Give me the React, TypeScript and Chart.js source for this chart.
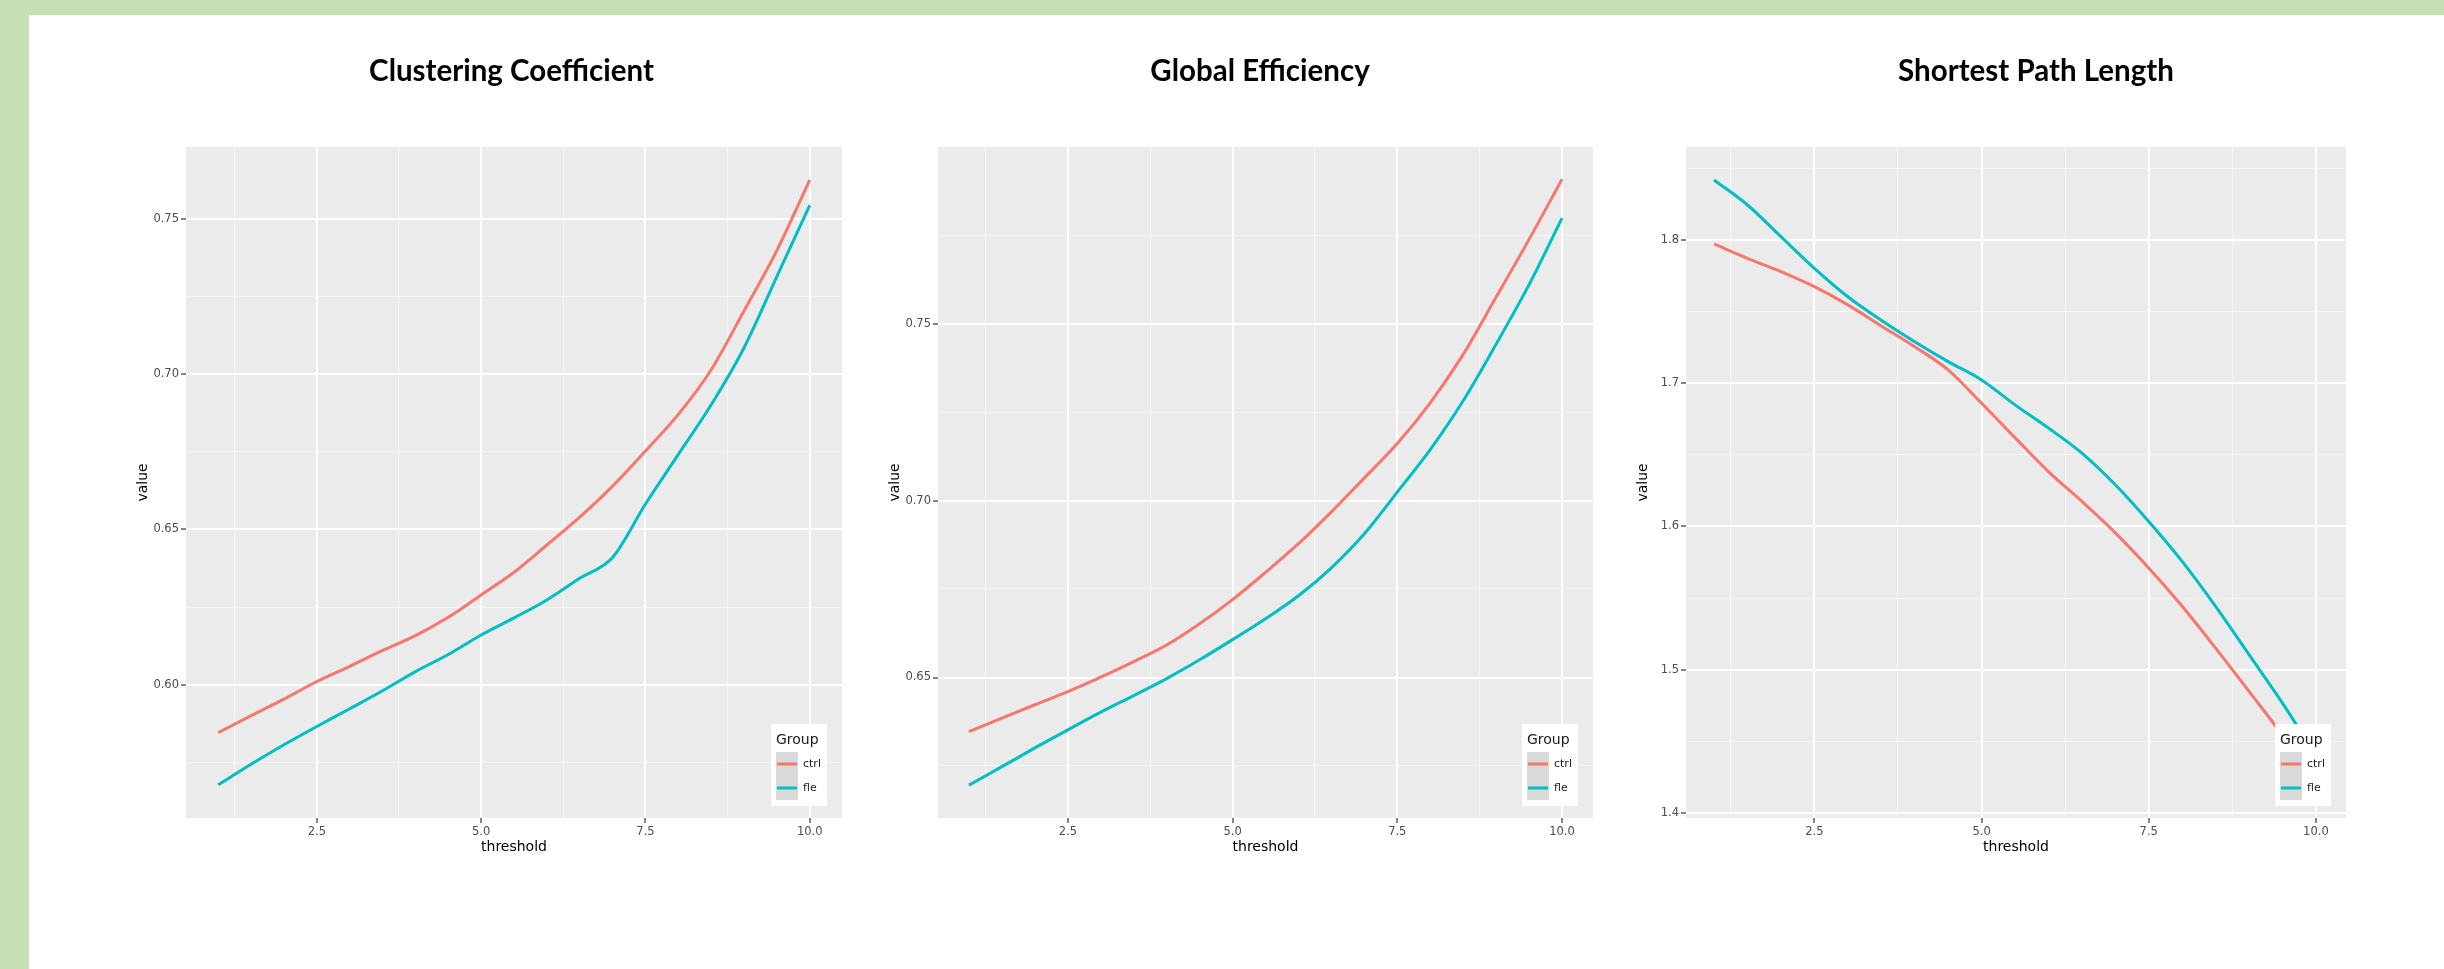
import React, { useEffect, useRef } from 'react';
import { Chart, registerables } from 'chart.js';

Chart.register(...registerables);
Chart.defaults.font.family = '"DejaVu Sans", sans-serif';

// ---------------- data ----------------
const thresholds = [1, 1.5, 2, 2.5, 3, 3.5, 4, 4.5, 5, 5.5, 6, 6.5, 7, 7.5, 8, 8.5, 9, 9.5, 10];
const groupLabels = ['ctrl', 'fle'];
const groupColors = ['#F8766D', '#00BFC4'];
const legendTitle = 'Group';
const xAxisTitle = 'threshold';
const yAxisTitle = 'value';
const panelTitles = ['Clustering Coefficient', 'Global Efficiency', 'Shortest Path Length'];

const clusteringCtrl = [0.5845, 0.5900, 0.5953, 0.6010, 0.6059, 0.6110, 0.6158, 0.6217, 0.6289, 0.6362, 0.6450, 0.6540, 0.6640, 0.6753, 0.6871, 0.7015, 0.7205, 0.7400, 0.7627];
const clusteringFle = [0.5677, 0.5743, 0.5806, 0.5865, 0.5922, 0.5980, 0.6042, 0.6097, 0.6160, 0.6215, 0.6273, 0.6343, 0.6410, 0.6582, 0.6742, 0.6902, 0.7086, 0.7316, 0.7546];

const efficiencyCtrl = [0.6347, 0.6385, 0.6423, 0.6460, 0.6501, 0.6545, 0.6592, 0.6652, 0.6720, 0.6797, 0.6878, 0.6968, 0.7064, 0.7161, 0.7276, 0.7413, 0.7575, 0.7738, 0.7908];
const efficiencyFle = [0.6196, 0.6248, 0.6301, 0.6352, 0.6402, 0.6449, 0.6497, 0.6550, 0.6607, 0.6666, 0.6731, 0.6810, 0.6906, 0.7024, 0.7144, 0.7282, 0.7442, 0.7610, 0.7798];

const pathCtrl = [1.7972, 1.7872, 1.7779, 1.7674, 1.7547, 1.7400, 1.7255, 1.7093, 1.6860, 1.6620, 1.6383, 1.6175, 1.5955, 1.5710, 1.5443, 1.5151, 1.4849, 1.4540, 1.4180];
const pathFle = [1.8419, 1.8244, 1.8023, 1.7802, 1.7604, 1.7440, 1.7290, 1.7151, 1.7023, 1.6849, 1.6687, 1.6512, 1.6291, 1.6035, 1.5756, 1.5442, 1.5105, 1.4767, 1.4400];

const xTickValues = [2.5, 5, 7.5, 10];
const xTickLabels = ['2.5', '5.0', '7.5', '10.0'];
const clusteringYTicks = [0.6, 0.65, 0.7, 0.75];
const clusteringYLabels = ['0.60', '0.65', '0.70', '0.75'];
const efficiencyYTicks = [0.65, 0.7, 0.75];
const efficiencyYLabels = ['0.65', '0.70', '0.75'];
const pathYTicks = [1.4, 1.5, 1.6, 1.7, 1.8];
const pathYLabels = ['1.4', '1.5', '1.6', '1.7', '1.8'];

// ---------------- layout ----------------
const PAGE_W = 2444;
const PAGE_H = 969;
const CANVAS_TOP = 15;
const PLOT_TOP = 147;
const PLOT_BOTTOM = 818;
const Y_AXIS_W = 51;
const X_AXIS_H = 38;
const PAD_RIGHT = 14;
const TITLE_BASELINE = 81;

const panels = [
  {
    title: panelTitles[0], ctrl: clusteringCtrl, fle: clusteringFle,
    yTicks: clusteringYTicks, yLabels: clusteringYLabels,
    left: 186, right: 842, xMin: 0.51, xMax: 10.49, yMin: 0.557, yMax: 0.7733, titleOffset: -2.5,
  },
  {
    title: panelTitles[1], ctrl: efficiencyCtrl, fle: efficiencyFle,
    yTicks: efficiencyYTicks, yLabels: efficiencyYLabels,
    left: 938, right: 1593, xMin: 0.53, xMax: 10.47, yMin: 0.6103, yMax: 0.7999, titleOffset: -5.5,
  },
  {
    title: panelTitles[2], ctrl: pathCtrl, fle: pathFle,
    yTicks: pathYTicks, yLabels: pathYLabels,
    left: 1686, right: 2346, xMin: 0.58, xMax: 10.45, yMin: 1.3965, yMax: 1.8649, titleOffset: 20,
  },
];

function withMinor(major: number[], min: number, max: number): number[] {
  const step = major[1] - major[0];
  const out: number[] = [];
  const first = major[0] - step / 2;
  for (let v = first; v <= max + 1e-9; v += step / 2) {
    if (v >= min - 1e-9) out.push(Math.round(v * 100000) / 100000);
  }
  return out;
}

function isMajor(v: number, major: number[]) {
  return major.some((m) => Math.abs(m - v) < 1e-6);
}

function labelFor(v: number, major: number[], labels: string[]) {
  const i = major.findIndex((m) => Math.abs(m - v) < 1e-6);
  return i >= 0 ? labels[i] : '';
}

// ---------------- plugins ----------------
const panelBackground = {
  id: 'panelBackground',
  beforeDraw(chart: any) {
    const { ctx, chartArea: a } = chart;
    ctx.save();
    ctx.fillStyle = '#EBEBEB';
    ctx.fillRect(a.left, a.top, a.right - a.left, a.bottom - a.top);
    ctx.restore();
  },
};

const panelTitle = {
  id: 'panelTitle',
  afterDraw(chart: any, _args: any, opts: any) {
    const { ctx, chartArea: a } = chart;
    ctx.save();
    ctx.font = `bold ${opts.size}px ${opts.family}`;
    ctx.fillStyle = '#000000';
    ctx.textAlign = 'center';
    ctx.textBaseline = 'alphabetic';
    ctx.fillText(opts.text, (a.left + a.right) / 2 + opts.offset, opts.baseline);
    ctx.restore();
  },
};

const groupLegend = {
  id: 'groupLegend',
  afterDatasetsDraw(chart: any, _args: any, opts: any) {
    const { ctx, chartArea: a } = chart;
    const w = 56;
    const h = 82;
    const x0 = a.right - 15 - w;
    const y0 = a.bottom - 12 - h;
    ctx.save();
    ctx.fillStyle = '#FFFFFF';
    ctx.fillRect(x0, y0, w, h);
    ctx.textAlign = 'left';
    ctx.textBaseline = 'middle';
    ctx.fillStyle = '#1A1A1A';
    ctx.font = '14px "DejaVu Sans"';
    ctx.fillText(opts.title, x0 + 5, y0 + 16);
    chart.data.datasets.forEach((ds: any, i: number) => {
      const ky = y0 + 28 + i * 24;
      ctx.fillStyle = '#D9D9D9';
      ctx.fillRect(x0 + 5, ky, 22, 24);
      ctx.strokeStyle = ds.borderColor;
      ctx.lineWidth = 3;
      ctx.beginPath();
      ctx.moveTo(x0 + 6, ky + 12);
      ctx.lineTo(x0 + 26, ky + 12);
      ctx.stroke();
      ctx.fillStyle = '#1A1A1A';
      ctx.font = '11px "DejaVu Sans"';
      ctx.fillText(ds.label, x0 + 32, ky + 12);
    });
    ctx.restore();
  },
};

// ---------------- panel ----------------
function Panel({ cfg }: { cfg: any }) {
  const ref = useRef<HTMLCanvasElement>(null);
  const canvasLeft = cfg.left - Y_AXIS_W;
  const canvasW = cfg.right + PAD_RIGHT - canvasLeft;
  const canvasH = PLOT_BOTTOM + X_AXIS_H - CANVAS_TOP;

  useEffect(() => {
    const canvas = ref.current;
    if (!canvas) return;
    const xAll = withMinor(xTickValues, cfg.xMin, cfg.xMax);
    const yAll = withMinor(cfg.yTicks, cfg.yMin, cfg.yMax);
    const series = [cfg.ctrl, cfg.fle];

    const gridFor = (major: number[]) => ({
      drawTicks: true,
      tickLength: 5,
      tickWidth: 1.2,
      color: (c: any) => (c.tick && isMajor(c.tick.value, major) ? '#FFFFFF' : '#F6F6F6'),
      lineWidth: (c: any) => (c.tick && isMajor(c.tick.value, major) ? 2 : 1.1),
      tickColor: (c: any) => (c.tick && isMajor(c.tick.value, major) ? '#333333' : 'rgba(0,0,0,0)'),
    });

    const chart = new Chart(canvas, {
      type: 'line',
      data: {
        datasets: groupLabels.map((label, gi) => ({
          label,
          data: thresholds.map((x, i) => ({ x, y: series[gi][i] })),
          borderColor: groupColors[gi],
          backgroundColor: groupColors[gi],
          borderWidth: 3,
          pointRadius: 0,
          fill: false,
          cubicInterpolationMode: 'monotone',
        })),
      },
      options: {
        responsive: false,
        animation: false,
        devicePixelRatio: 1,
        events: [],
        layout: { padding: { top: PLOT_TOP - CANVAS_TOP, left: 0, right: PAD_RIGHT, bottom: 0 } },
        plugins: {
          legend: { display: false },
          tooltip: { enabled: false },
          title: { display: false },
          panelTitle: {
            text: cfg.title,
            offset: cfg.titleOffset,
            baseline: TITLE_BASELINE - CANVAS_TOP,
            size: 29.5,
            family: 'Lato, "Open Sans", sans-serif',
          },
          groupLegend: { title: legendTitle },
        },
        scales: {
          x: {
            type: 'linear',
            min: cfg.xMin,
            max: cfg.xMax,
            afterBuildTicks: (s: any) => { s.ticks = xAll.map((v) => ({ value: v })); },
            afterFit: (s: any) => { s.height = X_AXIS_H; },
            ticks: {
              autoSkip: false,
              maxRotation: 0,
              padding: 2,
              color: '#4D4D4D',
              font: { size: 11.5 },
              callback: (v: any) => labelFor(Number(v), xTickValues, xTickLabels),
            },
            grid: gridFor(xTickValues),
            border: { display: false },
            title: { display: true, text: xAxisTitle, color: '#000000', font: { size: 14 }, padding: { top: 0, bottom: 0 } },
          },
          y: {
            type: 'linear',
            min: cfg.yMin,
            max: cfg.yMax,
            afterBuildTicks: (s: any) => { s.ticks = yAll.map((v) => ({ value: v })); },
            afterFit: (s: any) => { s.width = Y_AXIS_W; },
            ticks: {
              autoSkip: false,
              padding: 2,
              color: '#4D4D4D',
              font: { size: 11.5 },
              callback: (v: any) => labelFor(Number(v), cfg.yTicks, cfg.yLabels),
            },
            grid: gridFor(cfg.yTicks),
            border: { display: false },
            title: { display: true, text: yAxisTitle, color: '#000000', font: { size: 14 }, padding: { top: 0, bottom: 0 } },
          },
        },
      },
      plugins: [panelBackground, panelTitle, groupLegend],
    } as any);
    return () => chart.destroy();
  }, []);

  return (
    <canvas
      ref={ref}
      width={canvasW}
      height={canvasH}
      style={{ position: 'absolute', left: canvasLeft, top: CANVAS_TOP, width: canvasW, height: canvasH }}
    />
  );
}

export default function App() {
  return (
    <div style={{ position: 'absolute', left: 0, top: 0, width: PAGE_W, height: PAGE_H, background: '#FFFFFF', overflow: 'hidden' }}>
      <div style={{ position: 'absolute', left: 0, top: 0, width: PAGE_W, height: 15, background: '#C5E0B4' }} />
      <div style={{ position: 'absolute', left: 0, top: 0, width: 29, height: PAGE_H, background: '#C5E0B4' }} />
      {panels.map((p, i) => (
        <Panel key={i} cfg={p} />
      ))}
    </div>
  );
}
